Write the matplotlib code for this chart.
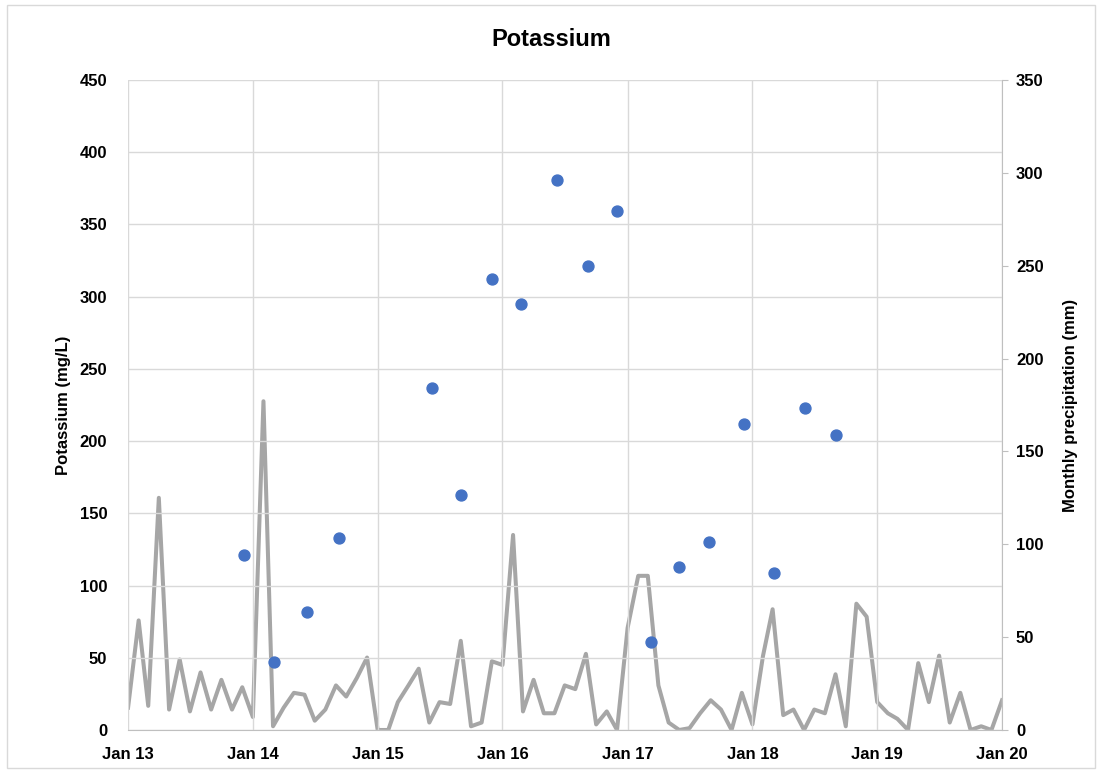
import matplotlib
matplotlib.use('Agg')
import matplotlib.pyplot as plt
import pandas as pd
from matplotlib.patches import Rectangle

plt.rcParams['font.family'] = ['Liberation Sans', 'DejaVu Sans']

# Potassium samples (mg/L)
sample_dates = ['2013-12-07', '2014-03-05', '2014-06-09', '2014-09-11',
                '2015-06-10', '2015-09-01', '2015-12-02', '2016-02-24',
                '2016-06-08', '2016-09-08', '2016-12-01', '2017-03-09',
                '2017-06-01', '2017-08-27', '2017-12-06', '2018-03-04',
                '2018-06-03', '2018-09-03']
potassium = [121, 47, 82, 133, 237, 163, 312, 295, 381, 321, 359, 61,
             113, 130, 212, 109, 223, 204]

# Monthly precipitation (mm), Jan 2013 - Jan 2020
precip_start = '2013-01-01'
precip = [12, 59, 13, 125, 11, 38, 10, 31, 11, 27, 11, 23,
          7, 177, 2, 12, 20, 19, 5, 11, 24, 18, 28, 39,
          0, 0, 15, 24, 33, 4, 15, 14, 48, 2, 4, 37,
          35, 105, 10, 27, 9, 9, 24, 22, 41, 3, 10, 0,
          55, 83, 83, 24, 4, 0, 1, 9, 16, 11, 0, 20,
          3, 40, 65, 8, 11, 0, 11, 9, 30, 2, 68, 61,
          15, 9, 6, 0, 36, 15, 40, 4, 20, 0, 2, 0,
          16]

year_ticks = ['Jan 13', 'Jan 14', 'Jan 15', 'Jan 16', 'Jan 17', 'Jan 18', 'Jan 19', 'Jan 20']

months = pd.date_range(precip_start, periods=len(precip), freq='MS')
sdates = pd.to_datetime(sample_dates)
tick_dates = pd.date_range('2013-01-01', periods=len(year_ticks), freq='YS')

fig = plt.figure(figsize=(11.02, 7.76), dpi=100)
ax = fig.add_axes([0.1162, 0.0593, 0.7931, 0.8377])
ax2 = ax.twinx()

# frame around the chart
fig.patches.append(Rectangle((0.0065, 0.010), 0.987, 0.983, transform=fig.transFigure,
                             fill=False, edgecolor='#d9d9d9', linewidth=1.0))

ax2.plot(months, precip, color='#a6a6a6', linewidth=2.9, zorder=2)
ax.scatter(sdates, potassium, s=62, color='#4472c4', zorder=3)

ax.set_zorder(ax2.get_zorder() + 1)
ax.patch.set_visible(False)

ax.set_xlim(tick_dates[0], tick_dates[-1])
ax.set_ylim(0, 450)
ax.set_yticks(range(0, 451, 50))
ax2.set_ylim(0, 350)
ax2.set_yticks(range(0, 351, 50))
ax.set_xticks(tick_dates)
ax.set_xticklabels(year_ticks)

ax.grid(True, color='#d9d9d9', linewidth=1.0)
ax.set_axisbelow(True)

for a in (ax, ax2):
    for s in a.spines.values():
        s.set_visible(False)
ax2.spines['right'].set_visible(True)
ax2.spines['right'].set_color('#bfbfbf')
ax.spines['bottom'].set_visible(True)
ax.spines['bottom'].set_color('#bfbfbf')

ax.tick_params(axis='y', length=0, pad=15, labelsize=12)
ax.tick_params(axis='x', length=0, pad=12, labelsize=12)
ax2.tick_params(axis='y', length=4, color='#bfbfbf', pad=6, labelsize=12)
for lbl in ax.get_xticklabels() + ax.get_yticklabels() + ax2.get_yticklabels():
    lbl.set_fontweight('bold')

ax.set_ylabel('Potassium (mg/L)', fontsize=12, fontweight='bold', labelpad=6)
ax2.set_ylabel('Monthly precipitation (mm)', fontsize=12, fontweight='bold', labelpad=14)
fig.text(0.5, 0.949, 'Potassium', ha='center', va='center', fontsize=17, fontweight='bold')

fig.savefig('out.png', dpi=100)
